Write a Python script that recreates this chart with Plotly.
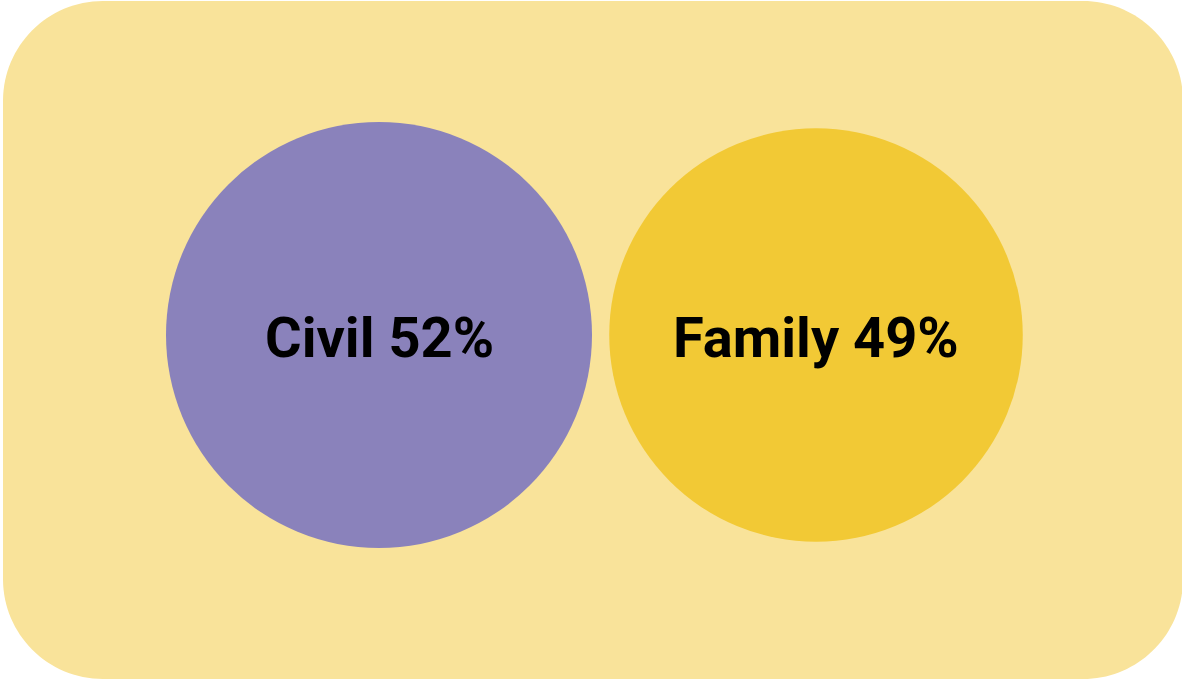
import plotly.graph_objects as go

# Data
categories = ["Civil", "Family"]
values = [52, 49]  # percent
colors = ["#8A82BB", "#F2C935"]

W, H = 1182, 681
labels = [f"{c} {v}%" for c, v in zip(categories, values)]
xs = [0, 1]

# radius (px) of the biggest circle -> sizeref for area sizing
max_radius = 213
sizeref = max(values) / 2 / max_radius ** 2

fig = go.Figure()
fig.add_trace(go.Scatter(
    x=xs,
    y=[0, 0],
    mode="markers",
    marker=dict(size=values, sizemode="area", sizeref=sizeref,
                color=colors, line=dict(width=0), opacity=1),
    hoverinfo="skip",
    showlegend=False,
    cliponaxis=False,
))

annotations = [
    dict(x=x, y=0, xref="x", yref="y", text=f"<b>{t}</b>", showarrow=False,
         yshift=-3, font=dict(family="Roboto", size=56, color="#000000"))
    for x, t in zip(xs, labels)
]

# rounded background panel (pixel geometry converted to paper coords)
def px(x, y):
    return f"{x / W:.5f},{1 - y / H:.5f}"

L, T, R, B, r = 3, 1, 1183, 679, 100
k = 0.5523 * r
path = (
    f"M {px(L + r, T)} L {px(R - r, T)} "
    f"C {px(R - r + k, T)} {px(R, T + r - k)} {px(R, T + r)} "
    f"L {px(R, B - r)} "
    f"C {px(R, B - r + k)} {px(R - r + k, B)} {px(R - r, B)} "
    f"L {px(L + r, B)} "
    f"C {px(L + r - k, B)} {px(L, B - r + k)} {px(L, B - r)} "
    f"L {px(L, T + r)} "
    f"C {px(L, T + r - k)} {px(L + r - k, T)} {px(L + r, T)} Z"
)

fig.update_layout(
    width=W, height=H,
    margin=dict(l=0, r=0, t=0, b=0),
    paper_bgcolor="#FFFFFF",
    plot_bgcolor="rgba(0,0,0,0)",
    shapes=[dict(type="path", xref="paper", yref="paper", path=path,
                 fillcolor="#F9E39A", line=dict(width=0), layer="below")],
    annotations=annotations,
    xaxis=dict(range=[-379 / 437, (W - 379) / 437], visible=False, fixedrange=True),
    yaxis=dict(range=[-346 / 335, 1], visible=False, fixedrange=True),
)

fig.write_html("out.html", config={"displayModeBar": False})
